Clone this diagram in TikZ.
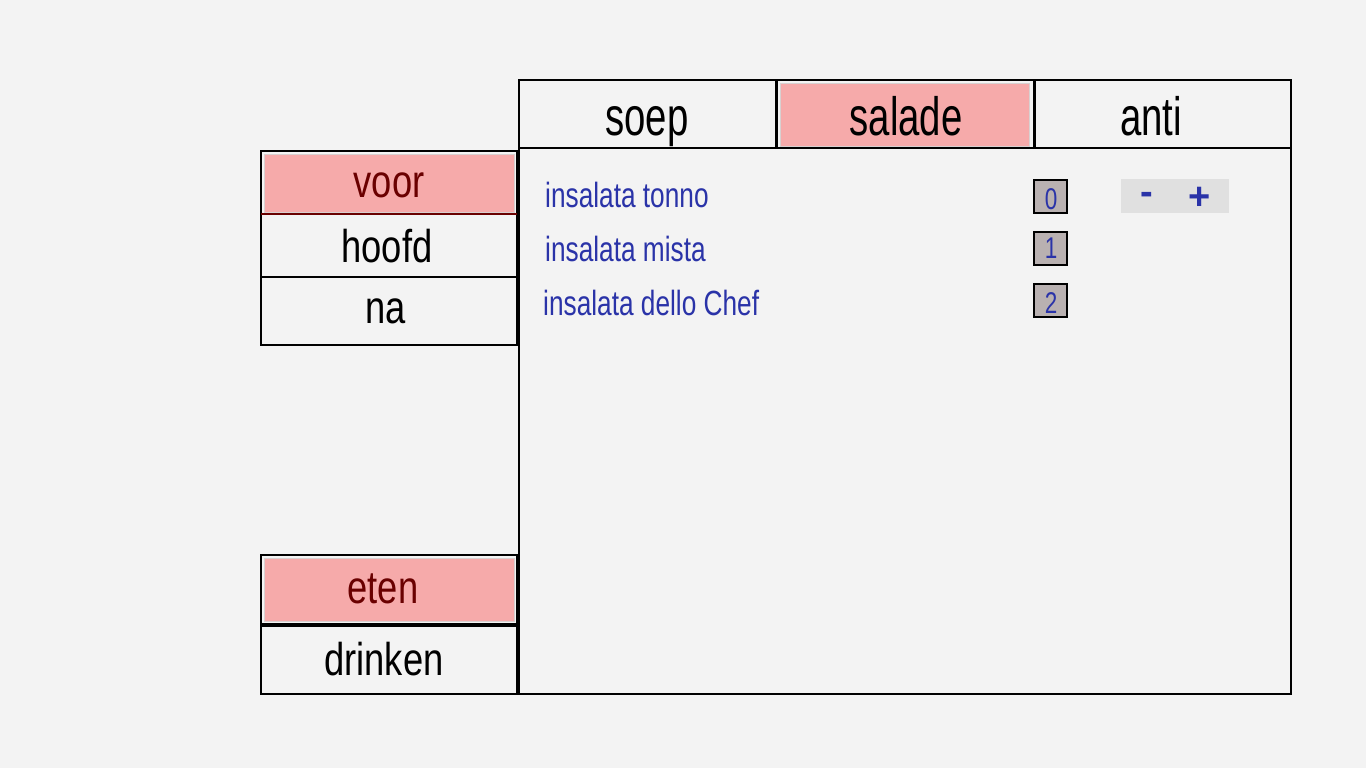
\documentclass[tikz,border=0pt]{standalone}
\usepackage{fontspec}
\setmainfont{Liberation Sans}
\newfontfamily\tabfont[FakeStretch=0.71]{Liberation Sans}
\newfontfamily\menufont[FakeStretch=0.79]{Liberation Sans}
\newfontfamily\itemfont[FakeStretch=0.75]{Liberation Sans}
\newfontfamily\numfont[FakeStretch=0.75]{Liberation Sans}
\definecolor{bg}{HTML}{F3F3F3}
\definecolor{pinksel}{HTML}{F6AAAA}
\definecolor{selline}{HTML}{D8D0D0}
\definecolor{darkred}{HTML}{6A0000}
\definecolor{itemblue}{HTML}{2A33A8}
\definecolor{numfill}{HTML}{B9B1B1}
\definecolor{pmfill}{HTML}{E0E0E0}
\begin{document}
\begin{tikzpicture}[x=1pt,y=-1pt,
  box/.style={draw=black, line width=2pt, inner sep=0pt, outer sep=0pt, rectangle, anchor=north west},
  sel/.style={fill=pinksel, draw=selline, line width=1pt, inner sep=0pt, outer sep=0pt, rectangle, anchor=north west},
  tabtext/.style={font=\tabfont\fontsize{54pt}{54pt}\selectfont, inner sep=0pt, anchor=base},
  menutext/.style={font=\menufont\fontsize{46pt}{46pt}\selectfont, inner sep=0pt, anchor=base},
  seltext/.style={menutext, text=darkred},
  itemtext/.style={font=\itemfont\fontsize{35pt}{35pt}\selectfont, text=itemblue, inner sep=0pt, anchor=base west},
  numbox/.style={box, fill=numfill, minimum width=33pt, minimum height=33pt},
  numtext/.style={font=\numfont\fontsize{30pt}{30pt}\selectfont, text=itemblue, inner sep=0pt, anchor=base},
  pmtext/.style={font=\bfseries\fontsize{38pt}{38pt}\selectfont, text=itemblue, inner sep=0pt, anchor=base}
]
\fill[bg] (0,0) rectangle (1366,768);
\useasboundingbox (0,0) rectangle (1366,768);

% main panel
\node[box, minimum width=772pt, minimum height=614pt] (panel) at (519,80) {};

% tabs
\node[box, minimum width=257pt, minimum height=68pt] (soep) at (519,80) {};
\node[box, minimum width=258pt, minimum height=68pt] (salade) at (776,80) {};
\node[box, minimum width=257pt, minimum height=68pt] (anti) at (1034,80) {};
\node[sel, minimum width=249pt, minimum height=62pt] (saladesel) at (780,84) {};
\draw[line width=3pt] (soep.north east) -- (soep.south east);
\draw[line width=3pt] (anti.north west) -- (anti.south west);
\node[tabtext] (soept) at (647,135) {soep};
\node[tabtext] (saladet) at (906,135) {salade};
\node[tabtext] (antit) at (1151,135) {anti};

% left menu
\node[box, minimum width=256pt, minimum height=63pt] (voor) at (261,151) {};
\node[box, minimum width=256pt, minimum height=63pt] (hoofd) at (261,214) {};
\node[box, minimum width=256pt, minimum height=68pt] (na) at (261,277) {};
\node[sel, minimum width=250pt, minimum height=58pt] (voorsel) at (264,154) {};
\draw[darkred, line width=2pt] (voor.south west) -- (voor.south east);
\node[seltext] (voort) at (389,197) {voor};
\node[menutext] (hoofdt) at (387,262) {hoofd};
\node[menutext] (nat) at (386,323) {na};

\node[box, minimum width=256pt, minimum height=69pt] (eten) at (261,555) {};
\node[box, minimum width=256pt, minimum height=69pt] (drinken) at (261,625) {};
\node[sel, minimum width=250pt, minimum height=63pt] (etensel) at (264,558) {};
\draw[line width=3pt] (drinken.north west) -- (drinken.north east);
\node[seltext] (etent) at (383,603) {eten};
\node[menutext] (drinkent) at (384,675) {drinken};

% items
\node[itemtext] (i0) at (545,207) {insalata tonno};
\node[itemtext] (i1) at (545,261) {insalata mista};
\node[itemtext] (i2) at (543,315) {insalata dello Chef};

\node[numbox] (n0) at (1034,180) {};
\node[numbox] (n1) at (1034,232) {};
\node[numbox] (n2) at (1034,284) {};
\node[numtext] (n0t) at (1051,209) {0};
\node[numtext] (n1t) at (1051,258) {1};
\node[numtext] (n2t) at (1051,313) {2};

% minus / plus
\node[fill=pmfill, inner sep=0pt, outer sep=0pt, anchor=north west, minimum width=108pt, minimum height=34pt] (pm) at (1121,179) {};
\node[pmtext] (minus) at (1147,204) {-};
\node[pmtext] (plus) at (1200,209) {+};
\end{tikzpicture}
\end{document}
